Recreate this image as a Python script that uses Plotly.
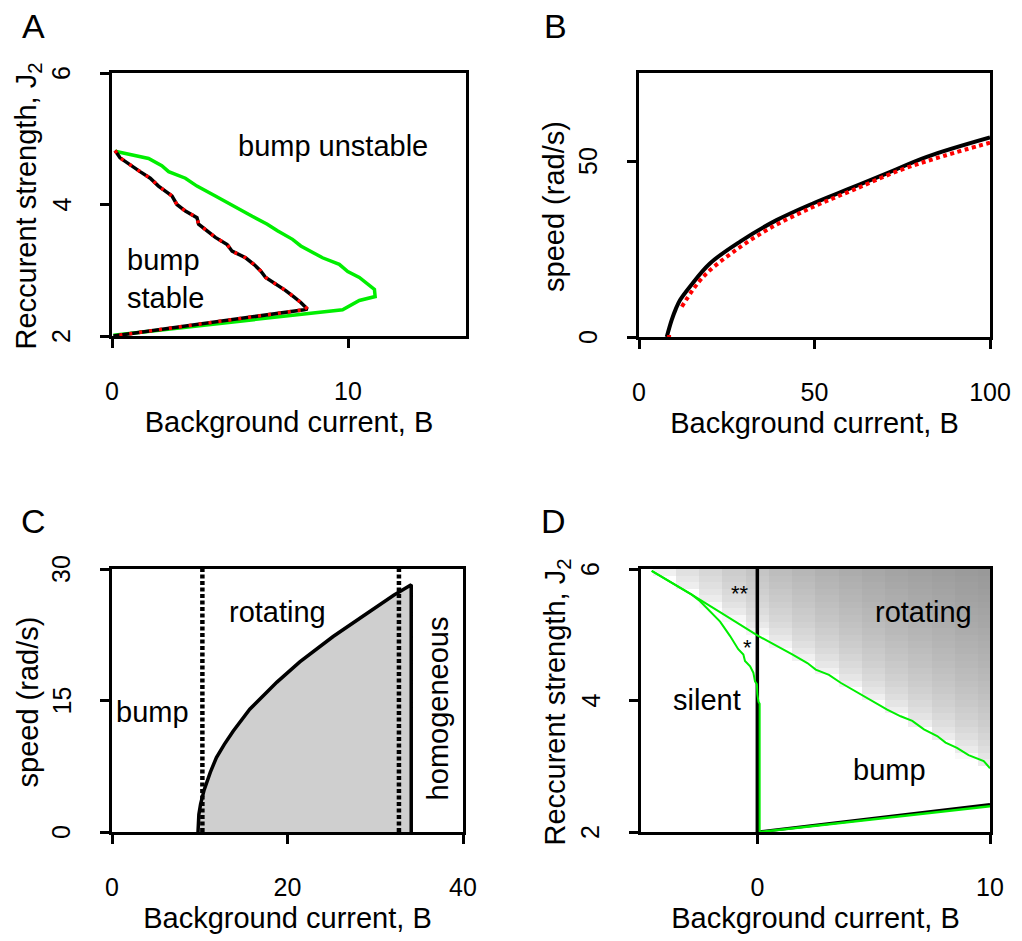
import plotly.graph_objects as go

# ---------------- Panel A data ----------------
a_black_x = [0.13, 0.34, 1.19, 1.62, 1.97, 2.33, 2.54, 2.75, 3.11, 3.60, 3.67, 4.38, 4.88, 5.09,
             5.66, 6.01, 6.30, 6.51, 6.94, 7.36, 7.72, 8.00, 8.28, 8.14, 0.06]
a_black_y = [4.82, 4.71, 4.50, 4.40, 4.28, 4.19, 4.13, 4.00, 3.90, 3.80, 3.70, 3.50, 3.39, 3.29,
             3.19, 3.09, 2.99, 2.89, 2.79, 2.69, 2.59, 2.51, 2.41, 2.40, 2.00]
a_green_x = [0.13, 1.55, 2.11, 2.40, 3.11, 3.60, 4.38, 5.16, 5.94, 6.58, 7.01, 7.65, 8.00, 8.92,
             9.63, 9.99, 10.48, 11.12, 11.15, 10.48, 9.99, 9.77, 0.06]
a_green_y = [4.81, 4.70, 4.59, 4.50, 4.40, 4.28, 4.13, 3.97, 3.82, 3.70, 3.60, 3.47, 3.37, 3.19,
             3.09, 2.98, 2.89, 2.71, 2.60, 2.54, 2.45, 2.40, 2.01]

# ---------------- Panel B data ----------------
b_theory_x = [7.9, 9.3, 10.5, 11.7, 14.5, 20.2, 28.8, 39.2, 49.7, 60.1, 70.6, 82.0, 100.0]
b_theory_y = [0.0, 4.8, 8.0, 10.5, 14.3, 20.9, 27.1, 33.2, 38.0, 42.2, 46.5, 51.2, 56.7]
b_sim_x = [8.0, 10.0, None, 12.2, 18.3, 26.9, 37.3, 49.7, 61.1, 74.4, 87.0, 100.0]
b_sim_y = [0.0, 0.0, None, 8.6, 17.1, 24.2, 30.9, 37.0, 41.8, 47.4, 51.5, 55.2]

# ---------------- Panel C data ----------------
c_speed_x = [9.8, 9.9, 10.1, 10.5, 11.2, 11.9, 12.8, 13.8, 15.7, 18.8, 21.4, 25.2, 29.0, 32.1, 34.1, 34.1]
c_speed_y = [0.0, 2.0, 3.2, 4.8, 6.8, 8.5, 10.0, 11.5, 14.0, 17.1, 19.4, 22.3, 24.9, 27.0, 28.2, 0.0]
c_bound_1 = 10.3
c_bound_2 = 32.7

# ---------------- Panel D data ----------------
# grey level (0-255) of each map column, read from the top row (J=5.95) downwards in steps of 0.1
d_cols_B = [-5, -4, -3, -2, -1, 0, 1, 2, 3, 4, 5, 6, 7, 8, 9, 10]
d_rows_J = [5.95, 5.85, 5.75, 5.65, 5.55, 5.45, 5.35, 5.25, 5.15, 5.05,
            4.95, 4.85, 4.75, 4.65, 4.55, 4.45, 4.35, 4.25, 4.15, 4.05,
            3.95, 3.85, 3.75, 3.65, 3.55, 3.45, 3.35, 3.25, 3.15, 3.05]
d_col_m5 = []
d_col_m4 = [241]
d_col_m3 = [225, 231, 238]
d_col_m2 = [215, 219, 224, 229, 236, 249]
d_col_m1 = [205, 208, 212, 217, 221, 227, 234, 247]
d_col_0 = [197, 200, 203, 207, 211, 215, 220, 226, 233, 244]
d_col_1 = [189, 192, 195, 199, 202, 206, 210, 214, 219, 225, 232, 243]
d_col_2 = [183, 186, 189, 192, 195, 198, 202, 205, 209, 214, 218, 224, 231, 241]
d_col_3 = [177, 180, 182, 185, 188, 191, 194, 197, 201, 205, 209, 213, 218, 224, 231, 241]
d_col_4 = [172, 175, 177, 180, 182, 185, 188, 191, 194, 197, 201, 204, 208, 213, 218, 223, 230, 240]
d_col_5 = [168, 170, 173, 175, 177, 180, 183, 185, 188, 191, 194, 197, 201, 204, 208, 213, 217, 223,
           229, 239]
d_col_6 = [164, 166, 168, 171, 173, 175, 178, 180, 183, 185, 188, 191, 194, 197, 201, 204, 208, 212,
           217, 222, 229, 238]
d_col_7 = [161, 163, 165, 167, 169, 171, 174, 176, 178, 181, 183, 186, 189, 192, 194, 198, 201, 204,
           208, 212, 217, 222, 228, 237]
d_col_8 = [158, 160, 162, 164, 166, 168, 170, 172, 174, 177, 179, 181, 184, 186, 189, 192, 195, 198,
           201, 205, 208, 212, 217, 222, 228, 236]
d_col_9 = [155, 157, 159, 160, 162, 164, 166, 168, 170, 172, 175, 177, 179, 182, 184, 187, 189, 192,
           195, 198, 201, 205, 208, 212, 217, 222, 228, 235, 249]
d_col_10 = [153, 155, 156, 158, 160, 162, 164, 166, 167, 170, 172, 174, 176, 178, 180, 183, 185, 188,
            190, 193, 196, 199, 202, 205, 209, 213, 217, 222, 228, 235]
d_columns = [d_col_m5, d_col_m4, d_col_m3, d_col_m2, d_col_m1, d_col_0, d_col_1, d_col_2, d_col_3,
             d_col_4, d_col_5, d_col_6, d_col_7, d_col_8, d_col_9, d_col_10]

d_upper_x = [-4.54, -2.82, -1.5, 0.0, 1.5, 2.15, 2.51, 3.08, 3.58, 4.58, 5.58, 6.16, 6.66, 7.16,
             7.73, 8.09, 8.58, 9.08, 9.73, 10.0]
d_upper_y = [5.97, 5.61, 5.32, 4.99, 4.70, 4.57, 4.47, 4.39, 4.27, 4.07, 3.86, 3.76, 3.69, 3.56,
             3.46, 3.36, 3.28, 3.17, 3.08, 2.97]
d_silent_x = [-4.54, -2.82, -2.46, -2.03, -1.60, -1.17, -0.82, -0.60, -0.53, -0.31, -0.17, -0.10,
              -0.02, 0.0, 0.05, 0.10, 0.10]
d_silent_y = [5.97, 5.61, 5.51, 5.36, 5.20, 4.98, 4.78, 4.70, 4.60, 4.52, 4.42, 4.29,
              4.25, 4.10, 3.98, 3.95, 2.00]
d_low_black_x = [0.0, 10.0]
d_low_black_y = [2.0, 2.42]
d_low_green_x = [0.1, 10.0]
d_low_green_y = [2.0, 2.39]

# tick values per panel
a_xticks, a_yticks = [0, 10], [2, 4, 6]
b_xticks, b_yticks = [0, 50, 100], [0, 50]
c_xticks, c_yticks = [0, 20, 40], [0, 15, 30]
d_xticks, d_yticks = [0, 10], [2, 4, 6]

FONT = "Liberation Sans, Arial, sans-serif"
GREEN = "#00ee00"

# heatmap table built from the column lists
d_z = [[col[i] if i < len(col) else None for col in d_columns] for i in range(len(d_rows_J))]

fig = go.Figure()

# Panel A
fig.add_trace(go.Scatter(x=a_green_x, y=a_green_y, mode="lines", line=dict(color=GREEN, width=3.5),
                         xaxis="x", yaxis="y", hoverinfo="skip"))
fig.add_trace(go.Scatter(x=a_black_x, y=a_black_y, mode="lines", line=dict(color="black", width=3.5),
                         xaxis="x", yaxis="y", hoverinfo="skip"))
fig.add_trace(go.Scatter(x=a_black_x, y=a_black_y, mode="lines",
                         line=dict(color="red", width=3.5, dash="3px,7px"),
                         xaxis="x", yaxis="y", hoverinfo="skip"))

# Panel B
fig.add_trace(go.Scatter(x=b_theory_x, y=b_theory_y, mode="lines", line=dict(color="black", width=4, shape="spline"),
                         xaxis="x2", yaxis="y2", hoverinfo="skip"))
fig.add_trace(go.Scatter(x=b_sim_x, y=b_sim_y, mode="lines",
                         line=dict(color="red", width=4, dash="4px,3.5px", shape="spline"),
                         xaxis="x2", yaxis="y2", hoverinfo="skip"))

# Panel C
fig.add_trace(go.Scatter(x=c_speed_x, y=c_speed_y, mode="lines", fill="toself",
                         fillcolor="rgb(207,207,207)", line=dict(color="black", width=3.5),
                         xaxis="x3", yaxis="y3", hoverinfo="skip"))
for bx in (c_bound_1, c_bound_2):
    fig.add_trace(go.Scatter(x=[bx, bx], y=[0, 30], mode="lines",
                             line=dict(color="black", width=4.5, dash="4px,2.5px"),
                             xaxis="x3", yaxis="y3", hoverinfo="skip"))

# Panel D
fig.add_trace(go.Heatmap(x=d_cols_B, y=d_rows_J, z=d_z, zmin=0, zmax=255,
                         colorscale=[[0, "rgb(0,0,0)"], [1, "rgb(255,255,255)"]],
                         showscale=False, xaxis="x4", yaxis="y4", hoverinfo="skip"))
fig.add_trace(go.Scatter(x=[0, 0], y=[2, 6], mode="lines", line=dict(color="black", width=3.5),
                         xaxis="x4", yaxis="y4", hoverinfo="skip"))
fig.add_trace(go.Scatter(x=d_low_black_x, y=d_low_black_y, mode="lines", line=dict(color="black", width=3),
                         xaxis="x4", yaxis="y4", hoverinfo="skip"))
fig.add_trace(go.Scatter(x=d_low_green_x, y=d_low_green_y, mode="lines", line=dict(color=GREEN, width=2.5),
                         xaxis="x4", yaxis="y4", hoverinfo="skip"))
fig.add_trace(go.Scatter(x=d_upper_x, y=d_upper_y, mode="lines", line=dict(color=GREEN, width=2),
                         xaxis="x4", yaxis="y4", hoverinfo="skip"))
fig.add_trace(go.Scatter(x=d_silent_x, y=d_silent_y, mode="lines", line=dict(color=GREEN, width=2),
                         xaxis="x4", yaxis="y4", hoverinfo="skip"))

W, H = 1022, 941


def px_x(p):
    return p / W


def px_y(p):
    return 1 - p / H


def xax(x0, x1, y_anchor, rng, ticks, title):
    return dict(domain=[px_x(x0), px_x(x1)], range=rng, anchor=y_anchor, automargin=False,
                tickvals=ticks, ticktext=[str(t) for t in ticks],
                showline=True, mirror=True, linecolor="black", linewidth=3,
                ticks="outside", ticklen=9, tickwidth=3, tickcolor="black",
                showgrid=False, zeroline=False, ticklabelstandoff=22,
                tickfont=dict(size=25, family=FONT, color="black"),
                title=dict(text=title, font=dict(size=29, family=FONT, color="black"), standoff=8))


def yax(y0, y1, x_anchor, rng, ticks):
    return dict(domain=[px_y(y1), px_y(y0)], range=rng, anchor=x_anchor, automargin=False,
                tickvals=ticks, showticklabels=False,
                showline=True, mirror=True, linecolor="black", linewidth=3,
                ticks="outside", ticklen=9, tickwidth=3, tickcolor="black",
                showgrid=False, zeroline=False)


J2 = "Reccurent strength, J<sub>2</sub>"
BG = "Background current, B"
SPEED = "speed (rad/s)"

# panel pixel boxes: (left, right, top, bottom)
boxA = (112, 466, 73, 336)
boxB = (639, 990, 73, 337)
boxC = (112, 463, 569, 832)
boxD = (641, 990, 569, 832)

fig.update_layout(
    width=W, height=H, margin=dict(l=0, r=0, t=0, b=0, autoexpand=False),
    paper_bgcolor="white", plot_bgcolor="white", showlegend=False,
    font=dict(family=FONT, color="black"),
    xaxis=xax(boxA[0], boxA[1], "y", [0, 15], a_xticks, BG),
    yaxis=yax(boxA[2], boxA[3], "x", [2, 6], a_yticks),
    xaxis2=xax(boxB[0], boxB[1], "y2", [0, 100], b_xticks, BG),
    yaxis2=yax(boxB[2], boxB[3], "x2", [0, 75], b_yticks),
    xaxis3=xax(boxC[0], boxC[1], "y3", [0, 40], c_xticks, BG),
    yaxis3=yax(boxC[2], boxC[3], "x3", [0, 30], c_yticks),
    xaxis4=xax(boxD[0], boxD[1], "y4", [-5, 10], d_xticks, BG),
    yaxis4=yax(boxD[2], boxD[3], "x4", [2, 6], d_yticks),
)

ann = []
for letter, px, py in [("A", 33, 26), ("B", 555, 26), ("C", 33, 521), ("D", 553, 521)]:
    ann.append(dict(text=letter, x=px_x(px), y=px_y(py), xref="paper", yref="paper",
                    showarrow=False, font=dict(size=34, family=FONT, color="black"),
                    xanchor="center", yanchor="middle"))

# rotated y tick labels and y titles, R style
for box, yref, yticks, title in [(boxA, "y", a_yticks, J2), (boxB, "y2", b_yticks, SPEED),
                                 (boxC, "y3", c_yticks, SPEED), (boxD, "y4", d_yticks, J2)]:
    for t in yticks:
        ann.append(dict(text=str(t), x=px_x(box[0] - 51), y=t, xref="paper", yref=yref,
                        showarrow=False, textangle=-90,
                        font=dict(size=25, family=FONT, color="black"),
                        xanchor="center", yanchor="middle"))
    ann.append(dict(text=title, x=px_x(box[0] - 85), y=px_y((box[2] + box[3]) / 2 + 2),
                    xref="paper", yref="paper", showarrow=False, textangle=-90,
                    font=dict(size=29, family=FONT, color="black"),
                    xanchor="center", yanchor="middle"))


def label(text, x, y, xr, yr, size=29, angle=0, xanchor="center", align="center"):
    ann.append(dict(text=text, x=x, y=y, xref=xr, yref=yr, showarrow=False, textangle=angle,
                    font=dict(size=size, family=FONT, color="black"),
                    xanchor=xanchor, yanchor="middle", align=align))


label("bump unstable", 9.35, 4.89, "x", "y")
label("bump<br>stable", 0.55, 2.86, "x", "y", xanchor="left", align="left")
label("rotating", 18.9, 25.1, "x3", "y3")
label("bump", 4.67, 13.7, "x3", "y3")
label("homogeneous", 37.15, 14.1, "x3", "y3", angle=-90)
label("rotating", 7.13, 5.35, "x4", "y4")
label("silent", -2.18, 4.01, "x4", "y4")
label("bump", 5.70, 2.94, "x4", "y4")
label("**", -0.75, 5.63, "x4", "y4", size=22)
label("*", -0.43, 4.80, "x4", "y4", size=22)

fig.update_layout(annotations=ann)
fig.write_html("out.html")
